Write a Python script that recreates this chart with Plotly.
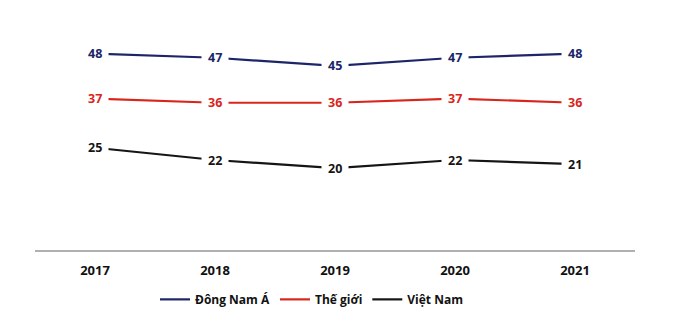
import plotly.graph_objects as go

years = ["2017", "2018", "2019", "2020", "2021"]
dong_nam_a = [48, 47, 45, 47, 48]
the_gioi = [37, 36, 36, 37, 36]
viet_nam = [25, 22, 20, 22, 21]

series = [
    ("Đông Nam Á", dong_nam_a, "#1c2568"),
    ("Thế giới", the_gioi, "#d9261c"),
    ("Việt Nam", viet_nam, "#151515"),
]

FONT = "Open Sans"

fig = go.Figure()
for name, vals, color in series:
    fig.add_trace(go.Scatter(
        x=years, y=vals, mode="lines", name=name,
        line=dict(color=color, width=2.2),
        hoverinfo="skip",
    ))
for name, vals, color in series:
    for i, v in enumerate(vals):
        fig.add_annotation(
            x=i, y=v, xref="x", yref="y", text=f"<b>{v}</b>",
            showarrow=False, bgcolor="white", borderpad=6,
            font=dict(family=FONT, size=12.5, color=color),
        )

fig.update_layout(
    width=680, height=323,
    margin=dict(l=35, r=45, t=25, b=73, autoexpand=False),
    paper_bgcolor="white", plot_bgcolor="white",
    showlegend=True,
    legend=dict(
        orientation="h", x=0.2, xanchor="left", y=-0.155, yanchor="top",
        font=dict(family=FONT, size=12, color="#111111", weight="bold"),
        itemwidth=30, tracegroupgap=0,
    ),
    xaxis=dict(
        type="category", range=[-0.5, 4.5],
        showline=True, linecolor="#b0b0b0", linewidth=2,
        showgrid=False, ticks="", ticklabelstandoff=7,
        tickfont=dict(family=FONT, size=13, color="#111111", weight="bold"),
    ),
    yaxis=dict(range=[0, 55], visible=False, showgrid=False, zeroline=False),
)

fig.write_html("out.html")
